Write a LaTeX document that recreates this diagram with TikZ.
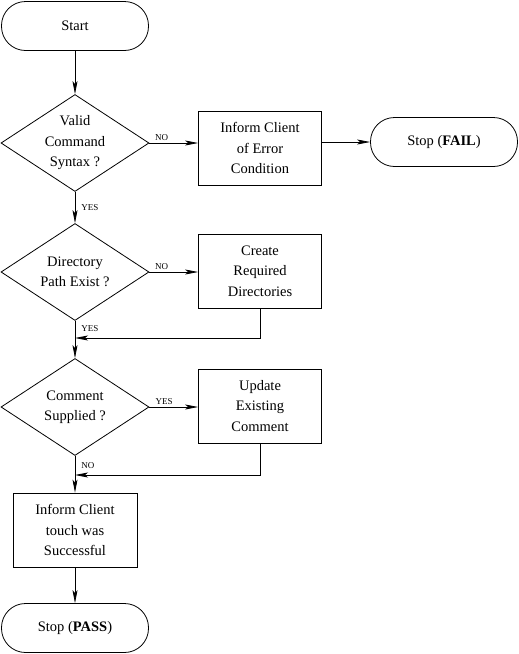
\documentclass[tikz,border=0pt]{standalone}
\usepackage{fontspec}
\setmainfont{Liberation Serif}
\usetikzlibrary{shapes,arrows.meta,positioning}

\begin{document}
\begin{tikzpicture}[x=1pt,y=-1pt,line width=0.8pt,
  every node/.style={font=\fontsize{14.5}{20.5}\selectfont,align=center},
  term/.style={draw,rectangle,rounded corners=24pt,minimum width=147pt,minimum height=49pt},
  test/.style={draw,diamond,aspect=1.5,inner sep=0pt,minimum width=148pt,minimum height=97pt},
  act/.style={draw,rectangle,minimum width=123pt,minimum height=74pt},
  lbl/.style={font=\fontsize{9}{10}\selectfont,inner sep=2pt},
  arr/.style={-{Stealth[length=13pt,width=5pt,inset=3pt]}}]
\useasboundingbox (0,0) rectangle (519,654);
\node [term] (s) at (75,26) {Start};
\node [test] (a) at (75,143) {Valid\\Command\\Syntax ?};
\node [act] (e) at (260,148) {Inform Client\\of Error\\Condition};
\node [term] (f) at (444,142) {Stop (\textbf{FAIL})};
\node [test] (b) at (75,272) {Directory\\Path Exist ?};
\node [act] (m) at (260,271) {Create\\Required\\Directories};
\node [test] (c) at (75,407) {Comment\\Supplied ?};
\node [act] (u) at (260,406) {Update\\Existing\\Comment};
\node [act,minimum width=124pt] (i) at (75,530) {Inform Client\\touch was\\Successful};
\node [term] (p) at (75,628) {Stop (\textbf{PASS})};
\coordinate (j) at (75,338);
\coordinate (k) at (75,475);
\draw [arr] (s) -- (a);
\draw [arr] (a.east) -- node [lbl,above,pos=0.25] {NO} (a.east -| e.west);
\draw [arr] (f.west -| e.east) -- (f.west);
\draw [arr] (a) -- node [lbl,right,xshift=4pt] {YES} (b);
\draw [arr] (b.east) -- node [lbl,above,pos=0.25] {NO} (b.east -| m.west);
\draw [arr] (m.south) |- (j);
\draw [arr] (b) -- node [lbl,right,xshift=4pt,pos=0.2] {YES} (c);
\draw [arr] (c.east) -- node [lbl,above,pos=0.3] {YES} (c.east -| u.west);
\draw [arr] (u.south) |- (k);
\draw [arr] (c) -- node [lbl,right,xshift=4pt,pos=0.25] {NO} (i);
\draw [arr] (i) -- (p);
\end{tikzpicture}
\end{document}
